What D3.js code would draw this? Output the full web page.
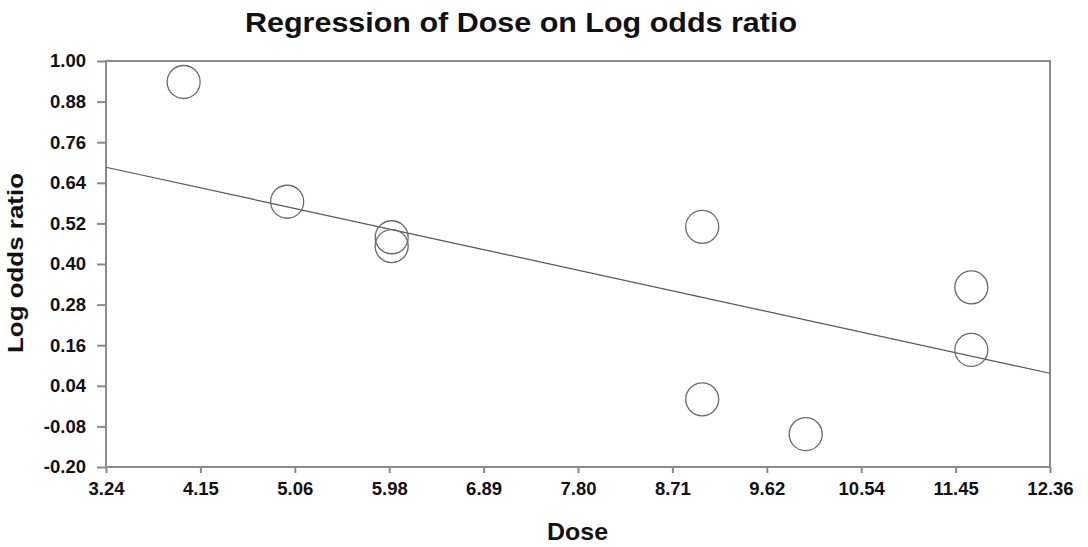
<!DOCTYPE html>
<meta charset="utf-8">
<head>
    <title>Regression of Dose on Log odds ratio</title>
</head>
<style>
    body { margin: 0; background: #fff; }
    text { font-family: "Liberation Sans", Arial, sans-serif; font-weight: bold; fill: #111; }
    circle { fill: none; stroke: #6a6a6a; stroke-width: 1.3; }
</style>
<body>
    <svg width="1088" height="547"></svg>
    <script src="https://cdnjs.cloudflare.com/ajax/libs/d3/7.8.5/d3.min.js"></script>
    <script>
        // studies
        var dose = [3.99, 4.99, 6.00, 6.00, 9.00, 9.00, 10.00, 11.60, 11.60]
        var logOdds = [0.938, 0.584, 0.479, 0.453, 0.510, 0.000, -0.103, 0.331, 0.146]

        // fitted line, end points at the x range
        var fitX = [3.24, 12.36]
        var fitY = [0.686, 0.077]

        var xTickLabels = ['3.24', '4.15', '5.06', '5.98', '6.89', '7.80', '8.71', '9.62', '10.54', '11.45', '12.36']
        var yTickLabels = ['-0.20', '-0.08', '0.04', '0.16', '0.28', '0.40', '0.52', '0.64', '0.76', '0.88', '1.00']

        // plot box (don't name these top/left: window.top is read only)
        var plotL = 106, plotR = 1050, plotT = 61, plotB = 467

        var x = d3.scaleLinear().domain([3.24, 12.36]).range([plotL, plotR])
        var y = d3.scaleLinear().domain([-0.20, 1.00]).range([plotB, plotT])

        var svg = d3.select('svg')

        // frame
        svg.append('rect')
            .attr('x', plotL).attr('y', plotT)
            .attr('width', plotR - plotL).attr('height', plotB - plotT)
            .attr('fill', 'none').attr('stroke', '#8a8a8a').attr('stroke-width', 2)

        var xAxis = d3.axisBottom(x)
            .tickValues(xTickLabels.map(function (d, i) { return 3.24 + i * (12.36 - 3.24) / 10 }))
            .tickFormat(function (d, i) { return xTickLabels[i] })
            .tickSize(6).tickPadding(9)
        var gx = svg.append('g').attr('transform', 'translate(0,' + plotB + ')').call(xAxis)

        var yAxis = d3.axisLeft(y)
            .tickValues(yTickLabels.map(function (d) { return +d }))
            .tickFormat(function (d, i) { return yTickLabels[i] })
            .tickSize(9).tickPadding(11)
        var gy = svg.append('g').attr('transform', 'translate(' + plotL + ',0)').call(yAxis)

        ;[gx, gy].forEach(function (g) {
            g.select('.domain').remove()
            g.selectAll('line').attr('stroke', '#8a8a8a').attr('stroke-width', 2)
            g.selectAll('text').attr('font-size', 18.5).attr('fill', '#111')
                .style('font-family', '"Liberation Sans", Arial, sans-serif').style('font-weight', 'bold')
        })

        // regression line
        svg.append('line')
            .attr('x1', x(fitX[0])).attr('y1', y(fitY[0]))
            .attr('x2', x(fitX[1])).attr('y2', y(fitY[1]))
            .attr('stroke', '#555').attr('stroke-width', 1.2)

        // points
        svg.selectAll('circle')
            .data(dose)
            .enter()
            .append('circle')
            .attr('cx', function (d) { return x(d) })
            .attr('cy', function (d, i) { return y(logOdds[i]) })
            .attr('r', 16.5)

        // the source fonts are a bit wider than Liberation, stretch to fit
        svg.append('text')
            .attr('x', 245).attr('y', 32)
            .attr('font-size', 28.5)
            .attr('textLength', 552).attr('lengthAdjust', 'spacingAndGlyphs')
            .text('Regression of Dose on Log odds ratio')

        svg.append('text')
            .attr('x', 547).attr('y', 540)
            .attr('font-size', 24)
            .attr('textLength', 61).attr('lengthAdjust', 'spacingAndGlyphs')
            .text('Dose')

        svg.append('text')
            .attr('transform', 'translate(23,353) rotate(-90)')
            .attr('font-size', 22.5)
            .attr('textLength', 180).attr('lengthAdjust', 'spacingAndGlyphs')
            .text('Log odds ratio')
    </script>
</body>
